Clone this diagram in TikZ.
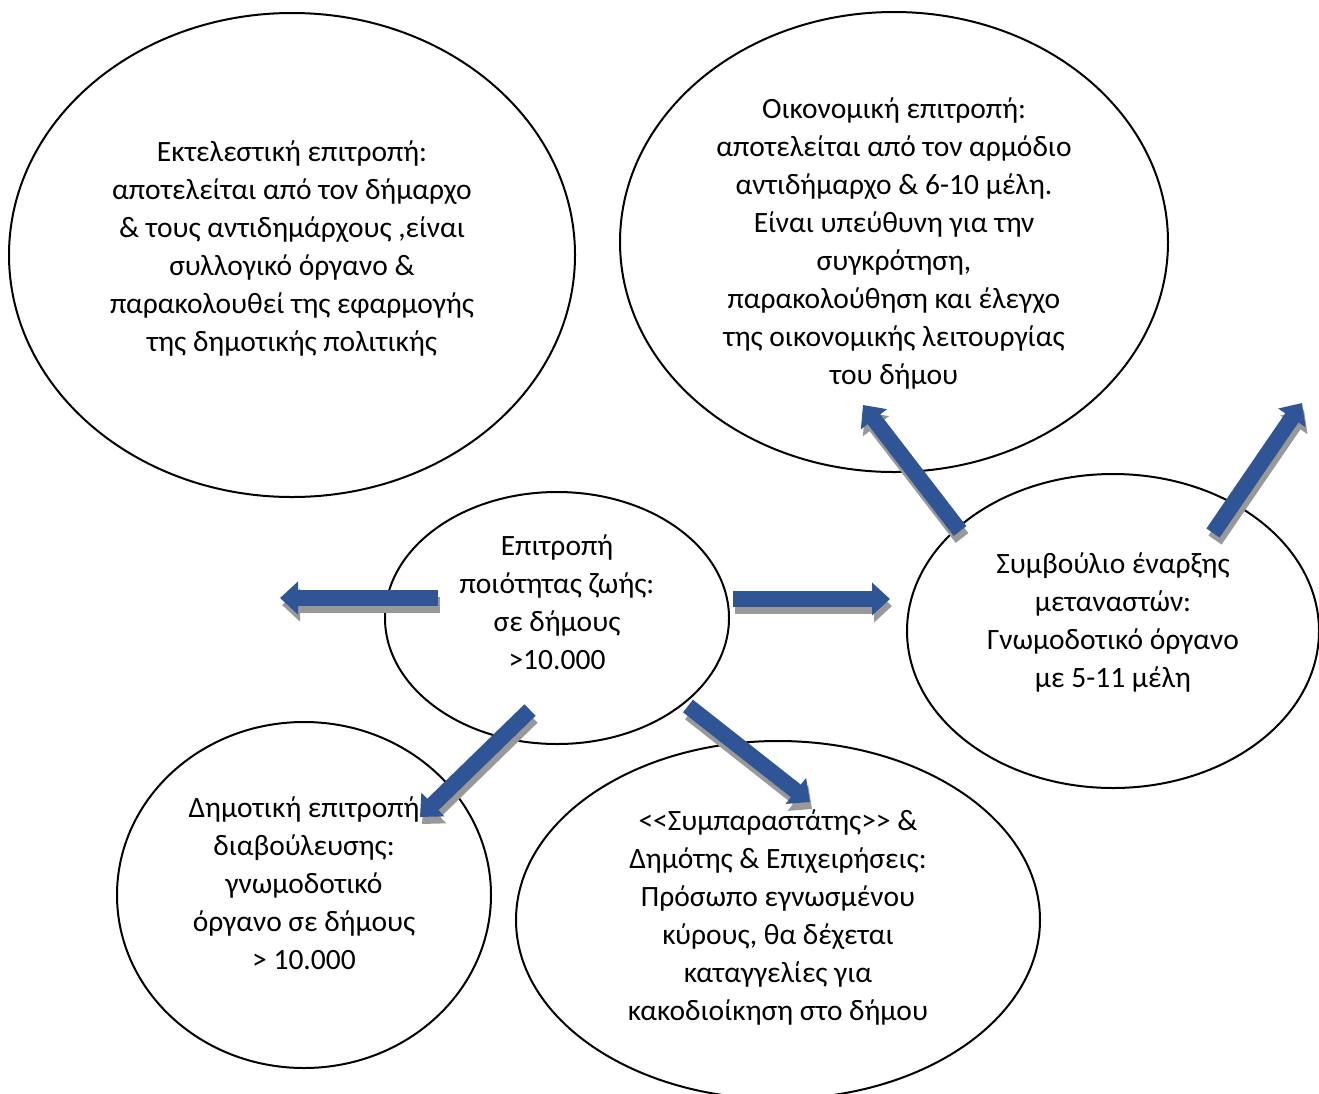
\documentclass[tikz,border=0pt]{standalone}
\usepackage{fontspec}
\setmainfont{Carlito}
\usetikzlibrary{shapes.geometric,arrows.meta}
\definecolor{arrowblue}{RGB}{47,85,151}
\tikzstyle{bubble} = [ellipse,
draw=black,
line width=2pt,
inner sep=0pt]
\tikzstyle{bubbletext} = [align=center,
inner sep=0pt,
font=\fontsize{29.5}{38}\selectfont]
\tikzstyle{blockarrow} = [draw=arrowblue,
line width=16pt,
-{Triangle[length=18pt,width=32pt]}]
\tikzstyle{arrowshadow} = [draw=black!40,
line width=16pt,
-{Triangle[length=18pt,width=32pt]},
transform canvas={shift={(2pt,-7pt)}}]

\begin{document}
\begin{tikzpicture}[x=1pt, y=-1pt]
    \useasboundingbox (0,0) rectangle (1319,1093);
    %%%%%%%%%%%%%%%%%%%%%%%%%%%%%%%%%%%%%%%%
    % Bubbles
    %%%%%%%%%%%%%%%%%%%%%%%%%%%%%%%%%%%%%%%%
    \node (exec) [bubble, minimum width=566pt, minimum height=484pt] at (292,255) {};
    \node (econ) [bubble, minimum width=548pt, minimum height=460pt] at (894,242) {};
    \node (zoi) [bubble, minimum width=344pt, minimum height=252pt] at (557,618) {};
    \node (migr) [bubble, minimum width=412pt, minimum height=314pt] at (1113,631) {};
    \node (consult) [bubble, minimum width=374pt, minimum height=346pt] at (304,895) {};
    \node (ombud) [bubble, minimum width=524pt, minimum height=358pt] at (778,920) {};
    %%%%%%%%%%%%%%%%%%%%%%%%%%%%%%%%%%%%%%%%
    % Texts
    %%%%%%%%%%%%%%%%%%%%%%%%%%%%%%%%%%%%%%%%
    \node (execText) [bubbletext, yshift=7pt] at (exec.center) {Εκτελεστική επιτροπή:\\ αποτελείται από τον δήμαρχο\\ \& τους αντιδημάρχους ,είναι\\ συλλογικό όργανο \&\\ παρακολουθεί της εφαρμογής\\ της δημοτικής πολιτικής};
    \node (econText) [bubbletext, yshift=-1pt] at (econ.center) {Οικονομική επιτροπή:\\ αποτελείται από τον αρμόδιο\\ αντιδήμαρχο \& 6-10 μέλη.\\ Είναι υπεύθυνη για την\\ συγκρότηση,\\ παρακολούθηση και έλεγχο\\ της οικονομικής λειτουργίας\\ του δήμου};
    \node (zoiText) [bubbletext, yshift=16pt] at (zoi.center) {Επιτροπή\\ ποιότητας ζωής:\\ σε δήμους\\ >10.000};
    \node (migrText) [bubbletext, yshift=9pt] at (migr.center) {Συμβούλιο έναρξης\\ μεταναστών:\\ Γνωμοδοτικό όργανο\\ με 5-11 μέλη};
    \node (consultText) [bubbletext, yshift=12pt] at (consult.center) {Δημοτική επιτροπή\\ διαβούλευσης:\\ γνωμοδοτικό\\ όργανο σε δήμους\\ > 10.000};
    \node (ombudText) [bubbletext, yshift=3pt] at (ombud.center) {<{}<Συμπαραστάτης>{}> \&\\ Δημότης \& Επιχειρήσεις:\\ Πρόσωπο εγνωσμένου\\ κύρους, θα δέχεται\\ καταγγελίες για\\ κακοδιοίκηση στο δήμου};
    %%%%%%%%%%%%%%%%%%%%%%%%%%%%%%%%%%%%%%%%
    % Arrow ends
    %%%%%%%%%%%%%%%%%%%%%%%%%%%%%%%%%%%%%%%%
    \coordinate (zoiW) at (438,598);
    \coordinate (freeW) at (280,598);
    \coordinate (zoiE) at (733,599);
    \coordinate (migrW) at (890,599);
    \coordinate (migrNW) at (960,531);
    \coordinate (econS) at (863,405);
    \coordinate (migrNE) at (1213,533);
    \coordinate (freeNE) at (1302,403);
    \coordinate (zoiSW) at (530,710);
    \coordinate (consultNE) at (420,817);
    \coordinate (zoiSE) at (688,706);
    \coordinate (ombudN) at (810,802);
    %%%%%%%%%%%%%%%%%%%%%%%%%%%%%%%%%%%%%%%%
    % Arrows
    %%%%%%%%%%%%%%%%%%%%%%%%%%%%%%%%%%%%%%%%
    \draw[arrowshadow] (zoiW) -- (freeW);
    \draw[arrowshadow] (zoiE) -- (migrW);
    \draw[arrowshadow] (migrNW) -- (econS);
    \draw[arrowshadow] (migrNE) -- (freeNE);
    \draw[arrowshadow] (zoiSW) -- (consultNE);
    \draw[arrowshadow] (zoiSE) -- (ombudN);
    \draw[blockarrow] (zoiW) -- (freeW);
    \draw[blockarrow] (zoiE) -- (migrW);
    \draw[blockarrow] (migrNW) -- (econS);
    \draw[blockarrow] (migrNE) -- (freeNE);
    \draw[blockarrow] (zoiSW) -- (consultNE);
    \draw[blockarrow] (zoiSE) -- (ombudN);
\end{tikzpicture}
\end{document}
